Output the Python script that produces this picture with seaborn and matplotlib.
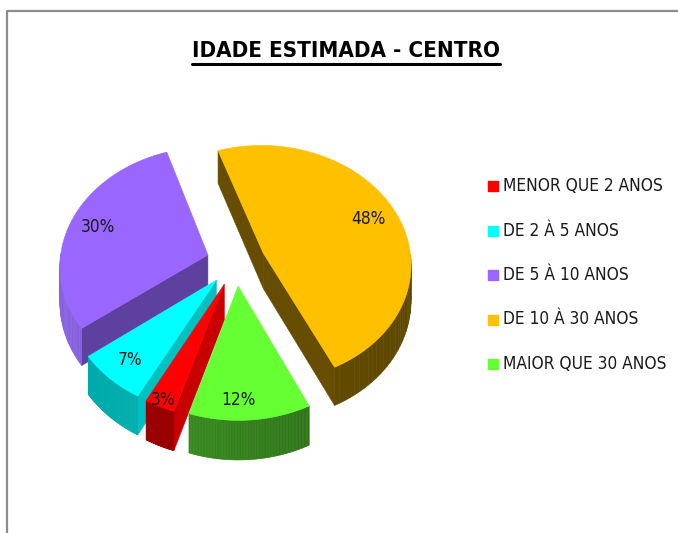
import numpy as np
import matplotlib
matplotlib.use("Agg")
import matplotlib.pyplot as plt
from matplotlib.patches import Polygon
from matplotlib.lines import Line2D
from matplotlib.font_manager import FontProperties, fontManager, weight_dict
import seaborn as sns

# ── Data
categories = ["MENOR QUE 2 ANOS", "DE 2 À 5 ANOS", "DE 5 À 10 ANOS",
              "DE 10 À 30 ANOS", "MAIOR QUE 30 ANOS"]
shares = [3, 7, 30, 48, 12]
pct_labels = ["3%", "7%", "30%", "48%", "12%"]
title_text = "IDADE ESTIMADA - CENTRO"

# ── Colours (top face, cut wall, outer wall left -> right)
face_colors = ["#FF0000", "#00FFFF", "#9966FF", "#FFC000", "#66FF33"]
cut_colors = ["#C80000", "#00C0C0", "#5E409E", "#664D00", "#2E7A18"]
outer_left = ["#A00000", "#00A6A6", "#8862E2", "#6A5000", "#3E9C22"]
outer_right = ["#8A0000", "#00C8C8", "#7050C4", "#5E4700", "#286414"]
label_radius = [0.95, 0.82, 0.8, 0.8, 0.86]
label_turn = [0, 0, 0, 0, -4]          # degrees

# ── Style
sns.set_theme(style="white")
installed = {f.name for f in fontManager.ttflist}
BODY = "Lato" if "Lato" in installed else "DejaVu Sans"
HEAD = "Liberation Sans" if "Liberation Sans" in installed else "DejaVu Sans"
plt.rcParams["font.family"] = [BODY, "DejaVu Sans"]


def find_narrow(bold):
    for f in fontManager.ttflist:
        st = str(f.stretch)
        narrow = "condensed" in st or "Narrow" in f.name or "Condensed" in f.name
        if not narrow or f.style != "normal" or "Mono" in f.name or "Serif" in f.name:
            continue
        w = f.weight if isinstance(f.weight, int) else weight_dict.get(f.weight, 400)
        if (w >= 600) == bold:
            return f.fname
    return None


nb, nr = find_narrow(True), find_narrow(False)
head_fp = FontProperties(fname=nb) if nb else FontProperties(family=HEAD, weight="bold")
body_fp = FontProperties(fname=nr) if nr else FontProperties(family=BODY)

W, H, DPI = 678, 533, 100
CX, CY, UNIT = 236, 262, 148           # pie centre (px) and radius (px)
START = -107.5                         # first slice starts here, clockwise
SQUASH, PERSP, EXPLODE, DEPTH = 0.80, 0.086, 0.20, 0.24
N_ARC = 80

fig = plt.figure(figsize=(W / DPI, H / DPI), dpi=DPI)
ax = fig.add_axes([0, 0, 1, 1])
ax.set_xlim(-CX / UNIT, (W - CX) / UNIT)
ax.set_ylim(-(H - CY) / UNIT, CY / UNIT)
ax.axis("off")


def project(x, y, z=0.0):
    p = 1.0 / (1.0 + PERSP * y)
    return x * p, (y * SQUASH + z) * p


def mix(c1, c2, t):
    a = np.array(matplotlib.colors.to_rgb(c1))
    b = np.array(matplotlib.colors.to_rgb(c2))
    return tuple(a + (b - a) * t)


walls = []   # (depth, points, colour)
faces = []
label_pos = []
cum = 0.0
for i, share in enumerate(shares):
    hi = START - cum * 3.6
    lo = hi - share * 3.6
    cum += share
    mid = np.radians((hi + lo) / 2)
    ox, oy = EXPLODE * np.cos(mid), EXPLODE * np.sin(mid)
    angs = np.radians(np.linspace(hi, lo, N_ARC))
    rx, ry = ox + np.cos(angs), oy + np.sin(angs)

    # top face
    top = [project(ox, oy)] + [project(a, b) for a, b in zip(rx, ry)]
    faces.append((top, face_colors[i]))

    # cut walls
    for ang, visible in ((np.radians(hi), np.cos(np.radians(hi)) < 0),
                         (np.radians(lo), np.cos(np.radians(lo)) > 0)):
        if not visible:
            continue
        ex, ey = ox + np.cos(ang), oy + np.sin(ang)
        pts = [project(ox, oy), project(ex, ey), project(ex, ey, -DEPTH), project(ox, oy, -DEPTH)]
        walls.append(((oy + ey) / 2, pts, cut_colors[i]))

    # outer wall, front part only
    for j in range(N_ARC - 1):
        am = (angs[j] + angs[j + 1]) / 2
        if np.sin(am) >= 0:
            continue
        t = (np.cos(am) + 1) / 2
        pts = [project(rx[j], ry[j]), project(rx[j + 1], ry[j + 1]),
               project(rx[j + 1], ry[j + 1], -DEPTH), project(rx[j], ry[j], -DEPTH)]
        walls.append(((ry[j] + ry[j + 1]) / 2, pts, mix(outer_left[i], outer_right[i], t)))

    r = label_radius[i]
    la = mid + np.radians(label_turn[i])
    label_pos.append(project(ox + r * np.cos(la), oy + r * np.sin(la)))

for depth, pts, col in sorted(walls, key=lambda w: -w[0]):
    ax.add_patch(Polygon(pts, closed=True, fc=col, ec=col, lw=0.4, zorder=2))
for pts, col in faces:
    ax.add_patch(Polygon(pts, closed=True, fc=col, ec=col, lw=0.4, zorder=3))

pct_texts = [ax.text(x, y, lab, ha="center", va="center", fontproperties=body_fp,
                     color="#1a1a1a", zorder=4)
             for (x, y), lab in zip(label_pos, pct_labels)]

# ── Title
title = fig.text(346 / W, 1 - 57 / H, title_text, ha="center", va="baseline",
                 fontproperties=head_fp, color="black")
title.set_fontsize(17)

# ── Legend, one row per category
leg_texts = []
for k, (lab, col) in enumerate(zip(categories, face_colors)):
    yk = 1 - (186 + k * 44.5) / H
    fig.add_artist(Line2D([492.5 / W], [yk], marker="s", ls="", color=col, markersize=7,
                          transform=fig.transFigure))
    leg_texts.append(fig.text(503 / W, yk, lab, ha="left", va="center",
                              fontproperties=body_fp, color="#1a1a1a"))

# fit text sizes to the reference widths
fig.canvas.draw()
tw = title.get_window_extent().width
title.set_fontsize(17 * 308 / tw)
for t in leg_texts + pct_texts:
    t.set_fontsize(14)
fig.canvas.draw()
lw_ = leg_texts[0].get_window_extent().width
body_size = min(15.5, 14 * 161 / lw_)
for t in leg_texts + pct_texts:
    t.set_fontsize(body_size)

# ── Frame (left and top edges only)
fig.add_artist(Line2D([7 / W, 7 / W, 1.0], [0.0, 1 - 11 / H, 1 - 11 / H],
                      transform=fig.transFigure, color="#8C8C8C", lw=1.6))

fig.canvas.draw()
bb = title.get_window_extent()
uy = H - 63.5
fig.add_artist(Line2D([bb.x0 / W, bb.x1 / W], [uy / H, uy / H],
                      transform=fig.transFigure, color="black", lw=2.2))

fig.savefig("out.png", dpi=DPI)
